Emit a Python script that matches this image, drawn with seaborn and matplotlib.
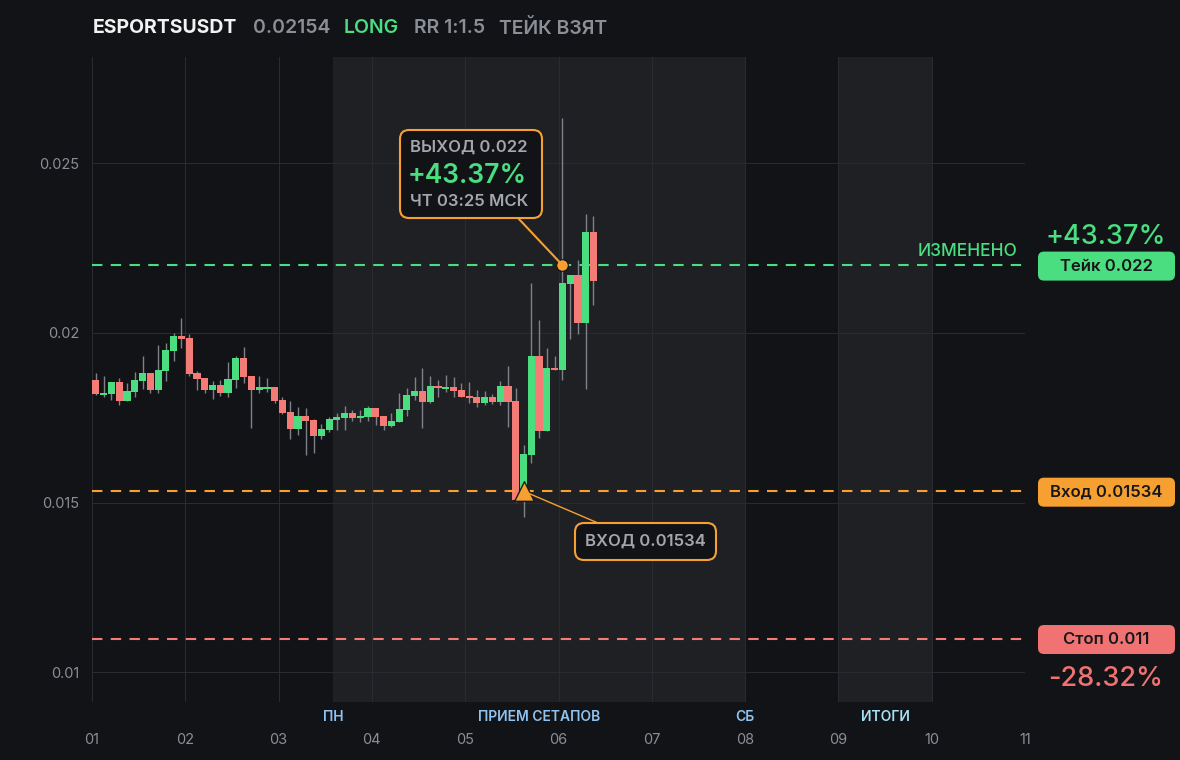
import numpy as np
import pandas as pd
import matplotlib
matplotlib.use("Agg")
import matplotlib.pyplot as plt
import seaborn as sns
from matplotlib.patches import FancyBboxPatch, ConnectionPatch

# 2h candles, 12 per day, starting at day 01
opens = [0.01862, 0.01817, 0.01820, 0.01856, 0.01800, 0.01826, 0.01859, 0.01882, 0.01832, 0.01888,
         0.01947, 0.01991, 0.01985, 0.01882, 0.01867, 0.01832, 0.01847, 0.01823, 0.01862, 0.01926,
         0.01873, 0.01832, 0.01835, 0.01841, 0.01803, 0.01767, 0.01717, 0.01756, 0.01744, 0.01697,
         0.01714, 0.01744, 0.01750, 0.01764, 0.01750, 0.01753, 0.01779, 0.01756, 0.01726, 0.01738,
         0.01773, 0.01814, 0.01829, 0.01797, 0.01844, 0.01835, 0.01841, 0.01832, 0.01814, 0.01811,
         0.01794, 0.01811, 0.01797, 0.01844, 0.01800, 0.01508, 0.01641, 0.01932, 0.01711, 0.01897,
         0.01891, 0.02144, 0.02171, 0.02030, 0.02298]
highs = [0.01882, 0.01873, 0.01856, 0.01867, 0.01853, 0.01885, 0.01932, 0.01882, 0.01965, 0.01971,
         0.02000, 0.02044, 0.01997, 0.01888, 0.01867, 0.01859, 0.01862, 0.01915, 0.01932, 0.01959,
         0.01873, 0.01873, 0.01867, 0.01841, 0.01811, 0.01800, 0.01782, 0.01779, 0.01747, 0.01732,
         0.01753, 0.01764, 0.01785, 0.01773, 0.01773, 0.01785, 0.01779, 0.01756, 0.01764, 0.01823,
         0.01838, 0.01870, 0.01897, 0.01873, 0.01862, 0.01876, 0.01870, 0.01853, 0.01856, 0.01832,
         0.01829, 0.01820, 0.01859, 0.01903, 0.01838, 0.01670, 0.02147, 0.02038, 0.01956, 0.01932,
         0.02633, 0.02171, 0.02215, 0.02351, 0.02345]
lows = [0.01817, 0.01811, 0.01803, 0.01788, 0.01800, 0.01811, 0.01835, 0.01823, 0.01823, 0.01859,
        0.01918, 0.01956, 0.01873, 0.01832, 0.01823, 0.01806, 0.01814, 0.01811, 0.01838, 0.01853,
        0.01720, 0.01823, 0.01826, 0.01794, 0.01761, 0.01688, 0.01700, 0.01641, 0.01647, 0.01688,
        0.01708, 0.01714, 0.01714, 0.01741, 0.01738, 0.01741, 0.01729, 0.01714, 0.01723, 0.01738,
        0.01756, 0.01803, 0.01720, 0.01794, 0.01811, 0.01826, 0.01811, 0.01811, 0.01794, 0.01782,
        0.01788, 0.01791, 0.01788, 0.01723, 0.01502, 0.01458, 0.01617, 0.01691, 0.01711, 0.01891,
        0.01862, 0.01982, 0.01997, 0.01835, 0.02083]
closes = [0.01820, 0.01823, 0.01856, 0.01800, 0.01829, 0.01862, 0.01882, 0.01832, 0.01891, 0.01950,
          0.01991, 0.01982, 0.01879, 0.01865, 0.01832, 0.01847, 0.01823, 0.01865, 0.01926, 0.01870,
          0.01832, 0.01841, 0.01841, 0.01800, 0.01764, 0.01717, 0.01756, 0.01741, 0.01697, 0.01717,
          0.01747, 0.01753, 0.01764, 0.01750, 0.01756, 0.01779, 0.01753, 0.01726, 0.01741, 0.01776,
          0.01817, 0.01829, 0.01797, 0.01844, 0.01838, 0.01841, 0.01829, 0.01811, 0.01808, 0.01794,
          0.01811, 0.01797, 0.01844, 0.01797, 0.01508, 0.01644, 0.01932, 0.01711, 0.01897, 0.01891,
          0.02147, 0.02171, 0.02030, 0.02298, 0.02153]

day_ticks = list(range(1, 12))
day_labels = ['01', '02', '03', '04', '05', '06', '07', '08', '09', '10', '11']
price_ticks = [0.01, 0.015, 0.02, 0.025]
price_labels = ['0.01', '0.015', '0.02', '0.025']

take_price = 0.022
entry_price = 0.01534
stop_price = 0.011
take_pct = '+43.37%'
stop_pct = '-28.32%'
entry_idx = 55
exit_idx = 60

zones = [(3 + 7 / 12, 8), (9, 10)]
zone_labels = ['ПН', 'ПРИЕМ СЕТАПОВ', 'СБ', 'ИТОГИ']
zone_label_x = [3 + 7 / 12, (3 + 7 / 12 + 8) / 2, 8, 9.5]
zone_label_colors = ['#8fc3f2', '#8fc3f2', '#8fc3f2', '#a6e1f7']

BG = '#121317'
ZONE = '#1f2024'
GRID = '#2a2b30'
GREEN = '#4ade80'
RED = '#f47b76'
ORANGE = '#f7a032'
GREY = '#8b8e96'
WICK = '#7e8189'

sns.set_theme(style='dark', rc={
    'figure.facecolor': BG, 'axes.facecolor': BG, 'savefig.facecolor': BG,
    'axes.edgecolor': BG, 'grid.color': GRID, 'text.color': GREY,
    'xtick.color': GREY, 'ytick.color': GREY,
})
plt.rcParams['font.family'] = ['Inter', 'DejaVu Sans']

df = pd.DataFrame({'open': opens, 'high': highs, 'low': lows, 'close': closes})
df['x'] = 1 + (np.arange(len(df)) + 0.5) / 12
df['up'] = df['close'] >= df['open']
df['bottom'] = df[['open', 'close']].min(axis=1)
df['height'] = (df['close'] - df['open']).abs().clip(lower=0.00006)

fig = plt.figure(figsize=(11.8, 7.6), dpi=100)
ax = fig.add_axes([92 / 1180, 1 - 702 / 760, (1025 - 92) / 1180, (702 - 57) / 760])
ax.set_xlim(1, 11)
ax.set_ylim(0.00913, 0.02813)

for a, b in zones:
    ax.axvspan(a, b, color=ZONE, zorder=0, lw=0)

ax.set_xticks(day_ticks)
ax.set_xticklabels(day_labels)
ax.set_yticks(price_ticks)
ax.set_yticklabels(price_labels)
ax.grid(True, color=GRID, lw=0.75, zorder=0.5)
ax.set_axisbelow(True)
ax.tick_params(axis='both', length=0, labelsize=10.5)
ax.tick_params(axis='x', pad=22)
ax.tick_params(axis='y', pad=9)
for s in ax.spines.values():
    s.set_visible(False)

# candles
ax.vlines(df['x'], df['low'], df['high'], color=WICK, lw=1, zorder=2)
ax.bar(df['x'], df['height'], bottom=df['bottom'], width=0.92 / 12,
       color=np.where(df['up'], GREEN, RED), lw=0, zorder=3)

# levels
ax.axhline(take_price, color=GREEN, lw=1.5, ls=(0, (5, 4)), zorder=4)
ax.axhline(entry_price, color=ORANGE, lw=1.5, ls=(0, (5, 4)), zorder=4)
ax.axhline(stop_price, color=RED, lw=1.5, ls=(0, (5, 4)), zorder=4)
ax.annotate('ИЗМЕНЕНО', (11, take_price), xytext=(-8, 14), textcoords='offset pixels',
            ha='right', va='center', color=GREEN, fontsize=12.5, fontweight='medium')

# entry / exit markers
exit_x = df['x'][exit_idx]
entry_x = df['x'][entry_idx]
sns.scatterplot(x=[exit_x], y=[take_price], color=ORANGE, s=70, edgecolor=BG, linewidth=0.8,
                zorder=7, ax=ax)
sns.scatterplot(x=[entry_x], y=[entry_price], marker='^', color=ORANGE, s=200, edgecolor='#1a1a1a',
                linewidth=1, zorder=7, ax=ax)

# zone captions
xt = ax.get_xaxis_transform()
for lab, zx, zc in zip(zone_labels, zone_label_x, zone_label_colors):
    ax.text(zx, -0.023, lab, transform=xt, ha='center', va='center', color=zc,
            fontsize=10, fontweight='semibold')

# overlay in pixel coordinates
ov = fig.add_axes([0, 0, 1, 1], zorder=5)
ov.set_xlim(0, 1180)
ov.set_ylim(760, 0)
ov.axis('off')
ov.patch.set_alpha(0)


def py(price):
    return 760 - ax.transData.transform((1, price))[1]


# header
hy = 28
ov.text(93, hy, 'ESPORTSUSDT', color='#f2f2f3', fontsize=14, fontweight='bold', va='center')
ov.text(253, hy, '0.02154', color=GREY, fontsize=14, fontweight='semibold', va='center')
ov.text(344, hy, 'LONG', color=GREEN, fontsize=14, fontweight='semibold', va='center')
ov.text(414, hy, 'RR 1:1.5', color=GREY, fontsize=14, fontweight='semibold', va='center')
ov.text(499, hy, 'ТЕЙК ВЗЯТ', color=GREY, fontsize=14, fontweight='semibold', va='center')

# right side level tags
for price, fc, label in [(take_price, GREEN, 'Тейк 0.022'),
                         (entry_price, ORANGE, 'Вход 0.01534'),
                         (stop_price, '#f07272', 'Стоп 0.011')]:
    cy = py(price) + 1
    ov.add_patch(FancyBboxPatch((1038, cy - 14.5), 137, 29, boxstyle='round,pad=0,rounding_size=6',
                                fc=fc, ec='none'))
    ov.text(1106, cy, label, ha='center', va='center', color='#16171a', fontsize=12,
            fontweight='semibold')
ov.text(1106, py(take_price) - 28, take_pct, ha='center', va='center', color=GREEN, fontsize=19.5,
        fontweight='medium')
ov.text(1106, py(stop_price) + 40, stop_pct, ha='center', va='center', color='#f07272', fontsize=19.5,
        fontweight='medium')

# exit callout
ov.add_patch(FancyBboxPatch((400, 130), 142, 88, boxstyle='round,pad=0,rounding_size=9',
                            fc=BG, ec=ORANGE, lw=1.5, zorder=3))
ov.text(410, 147, 'ВЫХОД 0.022', color='#a3a6ad', fontsize=12, fontweight='semibold', va='center', zorder=4)
ov.text(408, 176, take_pct, color=GREEN, fontsize=19, fontweight='semibold', va='center', zorder=4)
ov.text(410, 201, 'ЧТ 03:25 МСК', color='#a3a6ad', fontsize=12, fontweight='semibold', va='center', zorder=4)
fig.add_artist(ConnectionPatch(xyA=(exit_x, take_price), coordsA=ax.transData,
                               xyB=(518, 218), coordsB=ov.transData, color=ORANGE, lw=1.5, zorder=6))

# entry callout
ov.add_patch(FancyBboxPatch((575, 523), 141, 37, boxstyle='round,pad=0,rounding_size=9',
                            fc=BG, ec=ORANGE, lw=1.5, zorder=3))
ov.text(645, 541.5, 'ВХОД 0.01534', color='#a3a6ad', fontsize=12, fontweight='semibold',
        ha='center', va='center', zorder=4)
fig.add_artist(ConnectionPatch(xyA=(entry_x, entry_price), coordsA=ax.transData,
                               xyB=(598, 523), coordsB=ov.transData, color=ORANGE, lw=1, zorder=6))

fig.savefig('out.png', dpi=100)
